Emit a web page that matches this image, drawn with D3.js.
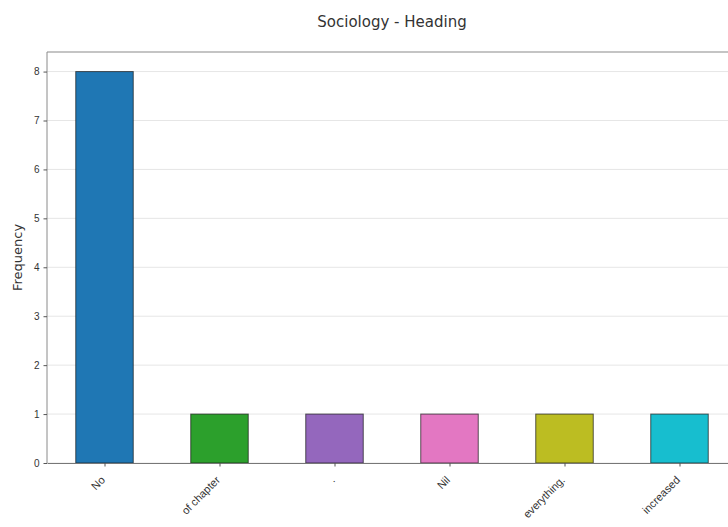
<!DOCTYPE html>
<html>
<head>
<meta charset="utf-8">
<title>Sociology - Heading</title>
<style>
  body { margin: 0; background: #fff; }
  svg { font-family: "DejaVu Sans", sans-serif; display: block; }
</style>
</head>
<body>
<script src="https://cdn.jsdelivr.net/npm/d3@7"></script>
<script>
// data
var categories = ["No", "of chapter", ".", "Nil", "everything.", "increased"];
var counts = [8, 1, 1, 1, 1, 1];
var barColors = ["#1f77b4", "#2ca02c", "#9467bd", "#e377c2", "#bcbd22", "#17becf"];
var yTicks = [0, 1, 2, 3, 4, 5, 6, 7, 8];

var width = 728, height = 527;
// the plot runs past the right edge of the picture, as in the original
var plot = {left: 47, top: 52, right: 737, bottom: 463};

var svg = d3.select("body").append("svg")
    .attr("width", width)
    .attr("height", height);

// x as a continuous scale so that bars are half a unit wide, like pandas
var x = d3.scaleLinear()
    .domain([-0.5, categories.length - 0.5])
    .range([plot.left, plot.right]);
var y = d3.scaleLinear()
    .domain([0, 8.4])
    .range([plot.bottom, plot.top]);

var barWidth = x(0.5) - x(0);

// grid
svg.append("g")
    .selectAll("line")
    .data(yTicks)
    .enter().append("line")
    .attr("x1", plot.left)
    .attr("x2", plot.right)
    .attr("y1", function(d) { return y(d); })
    .attr("y2", function(d) { return y(d); })
    .attr("stroke", "#e6e6e6")
    .attr("stroke-width", 1);

// bars
svg.append("g")
    .selectAll("rect")
    .data(counts)
    .enter().append("rect")
    .attr("x", function(d, i) { return x(i) - barWidth / 2; })
    .attr("y", function(d) { return y(d); })
    .attr("width", barWidth)
    .attr("height", function(d) { return y(0) - y(d); })
    .attr("fill", function(d, i) { return barColors[i]; })
    .attr("stroke", "#1a1a1a")
    .attr("stroke-opacity", 0.7)
    .attr("stroke-width", 1);

// frame
svg.append("line")
    .attr("x1", plot.left).attr("x2", plot.right)
    .attr("y1", plot.top).attr("y2", plot.top)
    .attr("stroke", "#b0b0b0").attr("stroke-width", 1.5);
svg.append("line")
    .attr("x1", plot.left).attr("x2", plot.left)
    .attr("y1", plot.top).attr("y2", plot.bottom)
    .attr("stroke", "#8a8a8a").attr("stroke-width", 1);

// y axis
var yAxis = d3.axisLeft(y)
    .tickValues(yTicks)
    .tickFormat(d3.format("d"))
    .tickSize(3.5)
    .tickPadding(4);
var gy = svg.append("g")
    .attr("transform", "translate(" + plot.left + ",0)")
    .call(yAxis);
gy.select(".domain").remove();
gy.selectAll(".tick line").attr("stroke", "#555");
gy.selectAll(".tick text")
    .attr("fill", "#333")
    .style("font-size", "10px");

// x axis
var xAxis = d3.axisBottom(x)
    .tickValues(d3.range(categories.length))
    .tickFormat(function(i) { return categories[i]; })
    .tickSize(3.5)
    .tickSizeOuter(0);
var gx = svg.append("g")
    .attr("transform", "translate(0," + plot.bottom + ")")
    .call(xAxis);
gx.select(".domain").attr("stroke", "#777").attr("stroke-width", 1);
gx.selectAll(".tick line").attr("stroke", "#555");
gx.selectAll(".tick text")
    .attr("fill", "#333")
    .style("font-size", "11px")
    .attr("text-anchor", "end")
    .attr("x", 0)
    .attr("y", 0)
    .attr("dy", "0.35em")
    .attr("transform", "translate(-2,15) rotate(-45)");

// y label
svg.append("text")
    .attr("transform", "translate(" + 22 + "," + ((plot.top + plot.bottom) / 2) + ") rotate(-90)")
    .attr("text-anchor", "middle")
    .attr("fill", "#333")
    .style("font-size", "13px")
    .text("Frequency");

// title
svg.append("text")
    .attr("x", (plot.left + plot.right) / 2)
    .attr("y", 27)
    .attr("text-anchor", "middle")
    .attr("fill", "#333")
    .style("font-size", "15px")
    .text("Sociology - Heading");
</script>
</body>
</html>
